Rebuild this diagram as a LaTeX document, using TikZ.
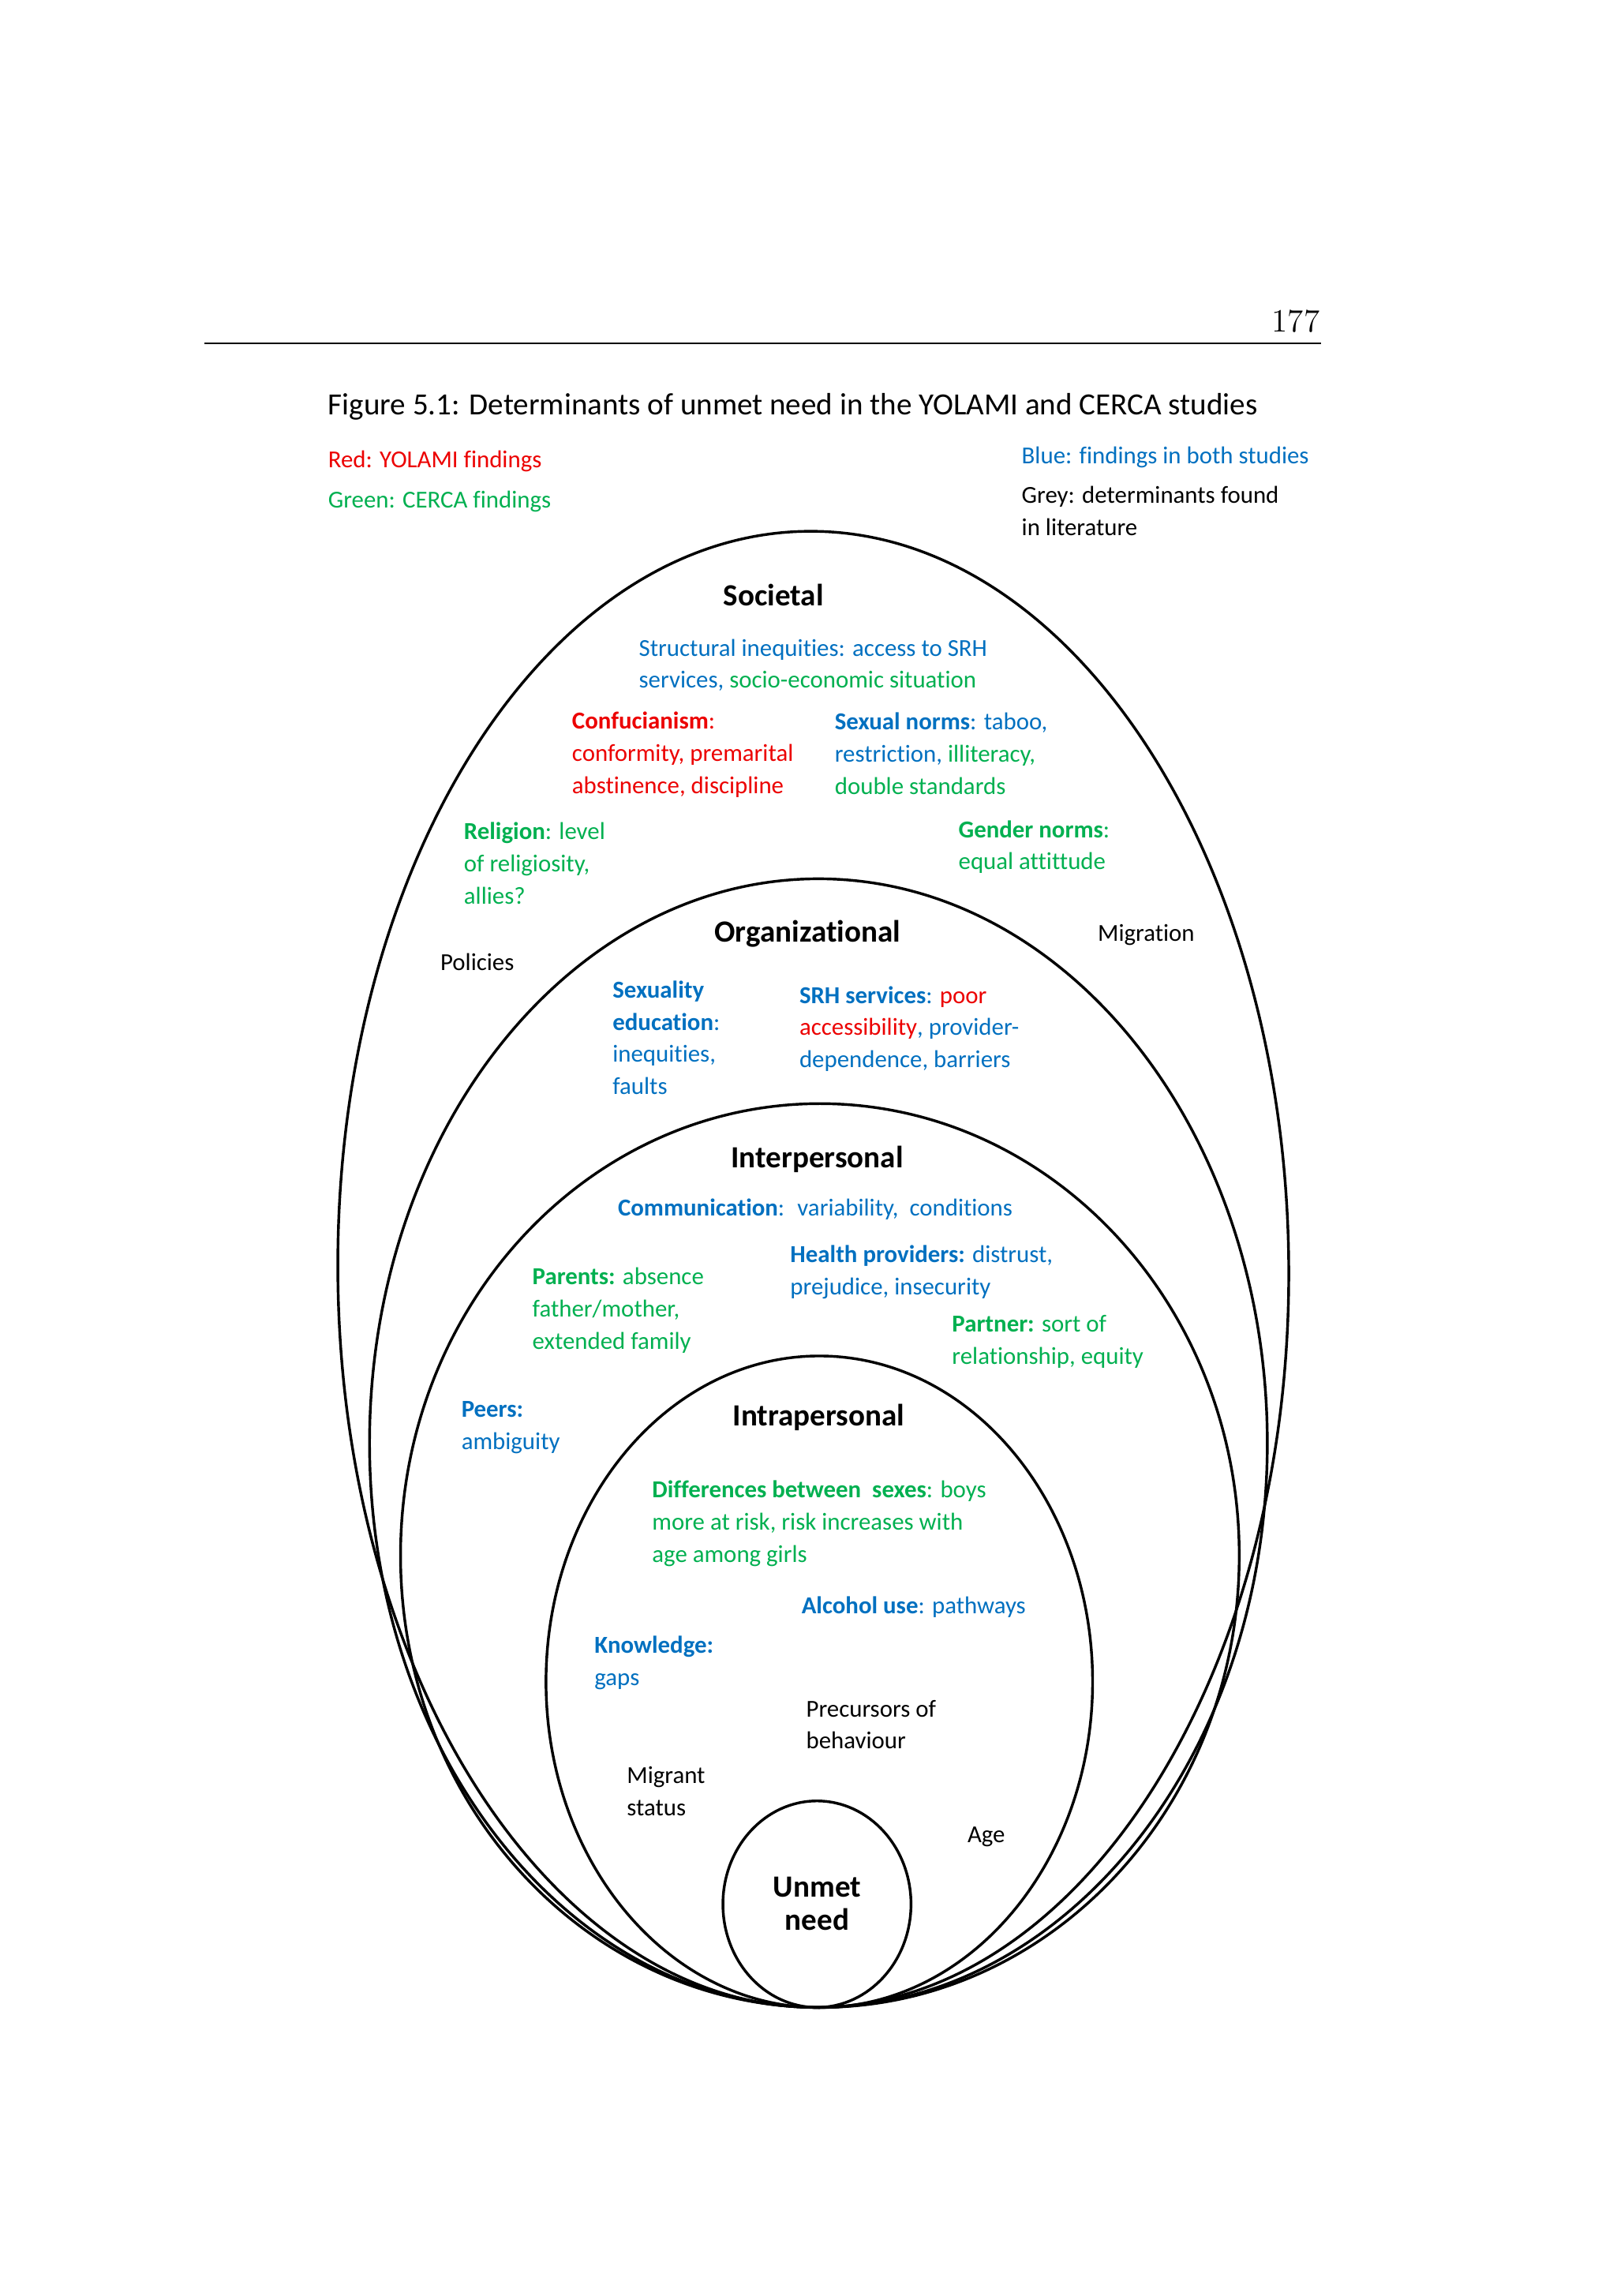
\documentclass[tikz,border=0pt]{standalone}
\usepackage{fontspec}
\newfontfamily\calib[Ligatures=NoCommon]{Carlito}
\definecolor{cred}{RGB}{236,0,0}
\definecolor{cgreen}{RGB}{0,176,80}
\definecolor{cblue}{RGB}{0,112,192}
\newcommand{\mlines}[1]{\begin{tabular}[t]{@{}l@{}}#1\end{tabular}}
\tikzset{
  txt/.style={anchor=base west, inner sep=0pt, font=\calib\fontsize{9}{11.9}\selectfont},
  hd/.style={anchor=base west, inner sep=0pt, font=\calib\bfseries\fontsize{11.4}{12.3}\selectfont},
  ttl/.style={anchor=base west, inner sep=0pt, font=\calib\fontsize{11.4}{13}\selectfont},
  ell/.style={draw=black, line width=1pt},
}
\begin{document}
\begin{tikzpicture}[x=0.0190909cm, y=-0.0190909cm]
\fill[white] (0,0) rectangle (1100,1562.4);
\useasboundingbox (0,0) rectangle (1100,1562.4);

% header
\coordinate (ruleL) at (139.3,233.8);
\coordinate (ruleR) at (899,233.8);
\draw[line width=0.5pt] (ruleL) -- (ruleR);
\node[anchor=base east, inner sep=0pt, font=\rmfamily\fontsize{12}{14}\selectfont] (page) at (898.5,226) {177};
\node[ttl] (title) at (223,282.5) {Figure 5.1: Determinants of unmet need in the YOLAMI and CERCA studies};
\node[txt,text=cred] (lred) at (223,318) {Red: YOLAMI findings};
\node[txt,text=cgreen] (lgreen) at (223,345.8) {Green: CERCA findings};
\node[txt,text=cblue] (lblue) at (695,315.3) {Blue: findings in both studies};
\node[txt] (lgrey) at (695,342.5) {\mlines{Grey: determinants found\\ in literature}};

% ellipses
\draw[ell, rotate around={0.34:(553.5,863.75)}] (553.5,863.75) ellipse [x radius=323.6, y radius=502.25];
\draw[ell] (557,982) ellipse [x radius=305.5, y radius=384];
\draw[ell] (558,1058.5) ellipse [x radius=285.4, y radius=307.5];
\draw[ell] (557.6,1144.4) ellipse [x radius=186, y radius=221.7];
\draw[ell] (556,1295.75) ellipse [x radius=64, y radius=70.25];

% societal
\node[hd] (soc) at (492,412) {Societal};
\node[txt,text=cblue] (struct) at (434.5,446.4) {\mlines{Structural inequities: access to SRH\\ services, \textcolor{cgreen}{socio-economic situation}}};
\node[txt,text=cred] (conf) at (389,496) {\mlines{\textbf{Confucianism}:\\ conformity, premarital\\ abstinence, discipline}};
\node[txt,text=cblue] (sexn) at (567.8,496.5) {\mlines{\textbf{Sexual norms}: taboo,\\ restriction, \textcolor{cgreen}{illiteracy,}\\ \textcolor{cgreen}{double standards}}};
\node[txt,text=cgreen] (rel) at (315.4,571.3) {\mlines{\textbf{Religion}: level\\ of religiosity,\\ allies?}};
\node[txt,text=cgreen] (gen) at (652,569.9) {\mlines{\textbf{Gender norms}:\\ equal attittude}};
\node[txt] (migr) at (746.8,640.6) {Migration};
\node[txt] (pol) at (299.4,660.3) {Policies};

% organizational
\node[hd] (org) at (486,641.1) {Organizational};
\node[txt,text=cblue] (sexed) at (416.6,679.1) {\mlines{\textbf{Sexuality}\\ \textbf{education}:\\ inequities,\\ faults}};
\node[txt,text=cblue] (srh) at (543.7,682.7) {\mlines{\textbf{SRH services}: \textcolor{cred}{poor}\\ \textcolor{cred}{accessibility}, provider-\\ dependence, barriers}};

% interpersonal
\node[hd] (inter) at (497.2,794.6) {Interpersonal};
\node[txt,text=cblue] (comm) at (420.2,827.6) {\textbf{Communication}:~ variability,~ conditions};
\node[txt,text=cblue] (hp) at (537.5,859) {\mlines{\textbf{Health providers:} distrust,\\ prejudice, insecurity}};
\node[txt,text=cgreen] (par) at (362,874.3) {\mlines{\textbf{Parents:} absence\\ father/mother,\\ extended family}};
\node[txt,text=cgreen] (partner) at (647.6,906.5) {\mlines{\textbf{Partner:} sort of\\ relationship, equity}};
\node[txt,text=cblue] (peers) at (313.7,964.6) {\mlines{\textbf{Peers:}\\ ambiguity}};

% intrapersonal
\node[hd] (intra) at (498.5,970) {Intrapersonal};
\node[txt,text=cgreen] (diff) at (443.5,1019.3) {\mlines{\textbf{Differences between~ sexes}: boys\\ more at risk, risk increases with\\ age among girls}};
\node[txt,text=cblue] (alc) at (545.2,1098) {\textbf{Alcohol use}: pathways};
\node[txt,text=cblue] (know) at (404.3,1124.9) {\mlines{\textbf{Knowledge:}\\ gaps}};
\node[txt] (prec) at (548.3,1168.2) {\mlines{Precursors of\\ behaviour}};
\node[txt] (migst) at (426.3,1213.5) {\mlines{Migrant\\ status}};
\node[txt] (age) at (658.1,1253.8) {Age};

% unmet need
\node[hd, anchor=base] (unmet) at (556.2,1291) {\begin{tabular}[t]{@{}c@{}}Unmet\\ need\end{tabular}};
\end{tikzpicture}
\end{document}
